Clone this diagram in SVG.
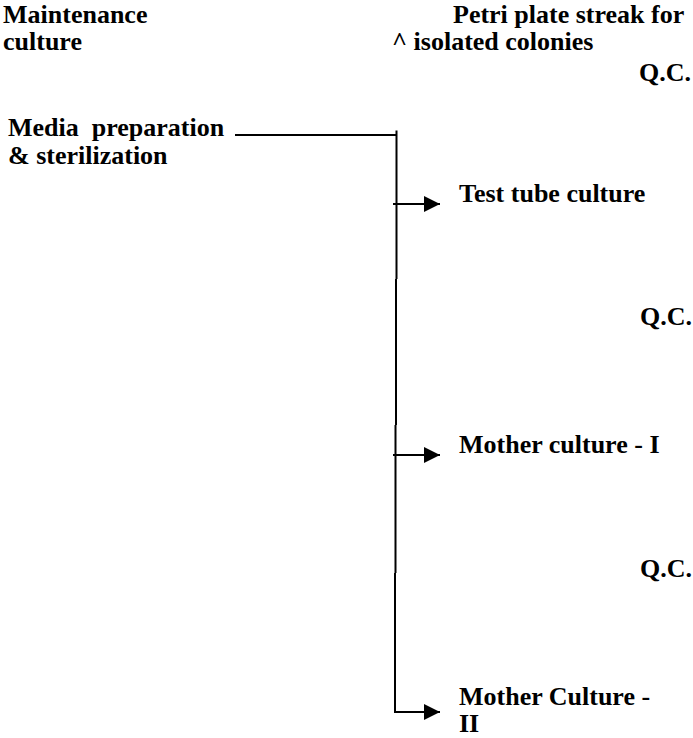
<svg xmlns="http://www.w3.org/2000/svg" width="693" height="738" viewBox="0 0 693 738">
<style>
text{font-family:"Liberation Serif","Times New Roman",serif;font-weight:bold;font-size:26px;fill:#000}
.ln{stroke:#000;stroke-width:2;fill:none}
</style>
<defs>
<marker id="ah" markerWidth="16" markerHeight="16" refX="16" refY="8" orient="auto" markerUnits="userSpaceOnUse">
<path d="M0,0 L16,8 L0,16 Z" fill="#000"/>
</marker>
</defs>
<rect width="693" height="738" fill="#fff"/>
<g id="maintenance"><text x="3" y="23">Maintenance</text><text x="3" y="50">culture</text></g>
<g id="petri"><text x="453" y="23">Petri plate streak for</text><text x="392" y="50">^ isolated colonies</text></g>
<g id="qc1"><text x="639" y="81">Q.C.</text></g>
<g id="media"><text x="8" y="136" xml:space="preserve" style="white-space:pre">Media  preparation</text><text x="8" y="164">&amp; sterilization</text></g>
<g id="testtube"><text x="459" y="202">Test tube culture</text></g>
<g id="qc2"><text x="640" y="325">Q.C.</text></g>
<g id="mother1"><text x="459" y="453">Mother culture - I</text></g>
<g id="qc3"><text x="640" y="577">Q.C.</text></g>
<g id="mother2"><text x="459" y="705">Mother Culture -</text><text x="459" y="732">II</text></g>
<g id="connectors">
<path class="ln" d="M235,135 H397"/>
<path class="ln" d="M396.5,130.5 V279 M396,279 V425 M395.5,425 V573 M395,573 V713"/>
<path class="ln" d="M393,204 H440" marker-end="url(#ah)"/>
<path class="ln" d="M393,455 H440" marker-end="url(#ah)"/>
<path class="ln" d="M394,712 H440" marker-end="url(#ah)"/>
</g>
</svg>
